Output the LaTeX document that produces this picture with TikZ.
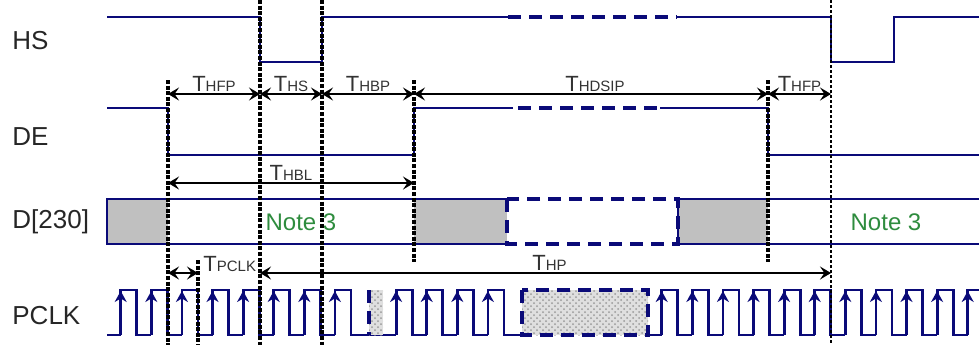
\documentclass[tikz,border=0pt]{standalone}
\usepackage{fontspec}
\setmainfont{Liberation Sans}
\usetikzlibrary{arrows.meta,patterns,positioning}
\definecolor{sig}{RGB}{10,10,120}
\definecolor{notegreen}{RGB}{46,140,62}
\definecolor{blk}{RGB}{192,192,192}
\newcommand{\tlab}[1]% T with small index
{T{\fontsize{7.5}{8}\selectfont #1}}
\tikzset{
	wave/.style={draw=sig, line width=1pt},
	wavedash/.style={draw=sig, line width=2pt, dash pattern=on 6.5pt off 4pt},
	clk/.style={draw=sig, line width=1.4pt},
	clkarrow/.style={sig, line width=1.4pt, -{Stealth[length=5.5pt,width=6pt]}},
	marker/.style={black, line width=1.8pt, dash pattern=on 2pt off 0.8pt},
	thinmarker/.style={black, line width=0.9pt, dash pattern=on 1.5pt off 1pt},
	dimarrow/.style={black, line width=1.1pt, {Stealth[length=5.5pt,width=6.5pt,inset=2.2pt]}-{Stealth[length=5.5pt,width=6.5pt,inset=2.2pt]}},
	siglabel/.style={anchor=west, inner sep=0pt, text=black!85, font=\fontsize{13}{15}\selectfont},
	tlabel/.style={text=black!80, inner sep=0.5pt, font=\fontsize{11}{12}\selectfont},
	notelabel/.style={text=notegreen, font=\fontsize{12}{14}\selectfont},
	hidden/.style={pattern=crosshatch dots, pattern color=gray!80}
}

\begin{document}
\begin{tikzpicture}[x=0.5pt,y=-0.5pt]
	\useasboundingbox (0,0) rectangle (979,345);
	% signal names
	\node[siglabel] (hs) at (12,41){HS};
	\node[siglabel] (de) at (12,137){DE};
	\node[siglabel] (data) at (12,222){D[230]};
	\node[siglabel] (pclk) at (12,316){PCLK};
	% HS
	\draw[wave] (107,17) -- (260,17) -- (260,62) -- (322,62) -- (322,17) -- (508,17);
	\draw[wavedash] (508,17) -- (677,17);
	\draw[wave] (677,17) -- (831,17) -- (831,62) -- (894,62) -- (894,17) -- (979,17);
	% DE
	\draw[wave] (107,108) -- (168,108) -- (168,155) -- (414,155) -- (414,108) -- (513,108);
	\draw[wavedash] (518,108) -- (660,108);
	\draw[wave] (660,108) -- (768,108) -- (768,155) -- (979,155);
	% D[230]
	\fill[blk] (107,199) rectangle (168,244);
	\fill[blk] (414,199) rectangle (507,244);
	\fill[blk] (678,199) rectangle (768,244);
	\draw[wave] (507,199) -| (107,244) -- (507,244);
	\draw[wavedash] (507,199) rectangle (678,244);
	\draw[wave] (979,199) -- (678,199) -- (678,244) -- (979,244);
	\node[notelabel] (note1) at (301,222){Note 3};
	\node[notelabel] (note2) at (886,222){Note 3};
	% PCLK
	\draw[clk] (107,335) -- (120.7,335);
	\foreach \n in {0,...,12}{
		\pgfmathsetmacro{\r}{120.7+30.6*\n}
		\ifnum\n=8
			\draw[clk] (\r,335) -- ({\r+30.6},335);
		\else
			\draw[clk] (\r,335) |- ({\r+16},290) -- ({\r+16},335) -- ({\r+30.6},335);
			\draw[clkarrow] (\r,335) -- (\r,291);
		\fi
	}
	\draw[clk] (518.5,335) -- (522,335);
	\draw[clk] (648,335) -- (661.7,335);
	\foreach \n in {0,...,10}{
		\pgfmathsetmacro{\r}{661.7+30.6*\n}
		\draw[clk] (\r,335) |- ({\r+16},290) -- ({\r+16},335) -- ({\r+30.6},335);
		\draw[clkarrow] (\r,335) -- (\r,291);
	}
	\fill[gray!25] (369,290) rectangle (383,335);
	\fill[hidden] (369,290) rectangle (383,335);
	\draw[wavedash] (369,290) -- (369,335);
	\fill[gray!25] (522,290) rectangle (648,335);
	\fill[hidden] (522,290) rectangle (648,335);
	\draw[wavedash] (522,290) rectangle (648,335);
	% timing marks
	\coordinate (de0) at (168,0);%DE falls
	\coordinate (ck1) at (198,0);%one clock later
	\coordinate (hs0) at (260,0);%HS falls
	\coordinate (hs1) at (322,0);%HS rises
	\coordinate (de1) at (414,0);%DE rises
	\coordinate (de2) at (768,0);%DE falls
	\coordinate (hs2) at (831,0);%HS falls
	\coordinate (row1) at (0,94);
	\coordinate (row2) at (0,183);
	\coordinate (row3) at (0,273);
	\draw[marker] (168,80) -- (168,345);
	\draw[marker] (198,260) -- (198,345);
	\draw[marker] (260,0) -- (260,345);
	\draw[marker] (322,0) -- (322,345);
	\draw[marker] (414,80) -- (414,262);
	\draw[marker] (768,80) -- (768,262);
	\draw[thinmarker] (831,0) -- (831,345);
	% spans
	\draw[dimarrow] (de0 |- row1) --node[midway, above, tlabel] (thfp){\tlab{HFP}} (hs0 |- row1);
	\draw[dimarrow] (hs0 |- row1) --node[midway, above, tlabel] (ths){\tlab{HS}} (hs1 |- row1);
	\draw[dimarrow] (hs1 |- row1) --node[midway, above, tlabel] (thbp){\tlab{HBP}} (de1 |- row1);
	\draw[dimarrow] (de1 |- row1) --node[midway, above, tlabel, xshift=2pt] (thdsip){\tlab{HDSIP}} (de2 |- row1);
	\draw[dimarrow] (de2 |- row1) --node[midway, above, tlabel] (thfp2){\tlab{HFP}} (hs2 |- row1);
	\draw[dimarrow] (de0 |- row2) --node[midway, above, tlabel] (thbl){\tlab{HBL}} (de1 |- row2);
	\draw[dimarrow] (de0 |- row3) -- (ck1 |- row3);
	\node[tlabel, anchor=south west, xshift=2pt] (tpclk) at (ck1 |- row3){\tlab{PCLK}};
	\draw[dimarrow] (hs0 |- row3) --node[midway, above, tlabel, xshift=2pt] (thp){\tlab{HP}} (hs2 |- row3);
\end{tikzpicture}
\end{document}
